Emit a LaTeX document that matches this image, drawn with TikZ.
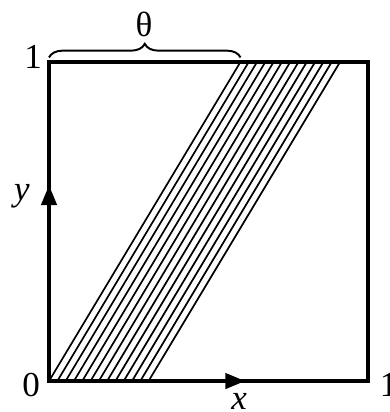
\documentclass[tikz,border=0pt]{standalone}
\usepackage{fontspec}
\setmainfont{Liberation Serif}
\usepackage{tikz}
\usetikzlibrary{positioning, arrows.meta, decorations.pathreplacing, calc}
\tikzset{
  frame/.style={draw=black, line width=2.7pt, line join=miter},
  hatchline/.style={draw=black, line width=1.2pt},
  axisarrow/.style={
    -{Triangle[length=5mm, width=3.8mm]},
    black, line width=2.7pt
  },
  lbl/.style={font=\fontsize{25}{28}\selectfont, inner sep=0pt},
  bracetop/.style={decorate, decoration={brace, amplitude=3.4mm}, line width=1.4pt}
}
\begin{document}
\begin{tikzpicture}[x=8cm, y=8cm]
        \useasboundingbox (-0.1536,-0.097) rectangle (1.066,1.194);
        \coordinate (orig) at (0,0);
        \coordinate (xend) at (1,0);
        \coordinate (top) at (1,1);
        \coordinate (yend) at (0,1);
        \coordinate (theta) at (0.6,1);
        % hatched band
        \foreach \i in {0,...,12} {
          \draw[hatchline] ($(orig)+(\i*0.026,0)$) -- ($(theta)+(\i*0.026,0)$);
        }
        \draw[frame] (orig) rectangle (top);
        \draw[axisarrow] (orig) -- (0.615,0);
        \draw[axisarrow] (orig) -- (0,0.614);
        \draw[bracetop] ($(yend)+(0,0.014)$) -- ($(theta)+(0,0.014)$);
        \node[lbl] (thlbl) at (0.298,1.116) {θ};
        \node[lbl] (one) at (-0.05,1.016) {1};
        \node[lbl] (zero) at (-0.056,-0.012) {0};
        \node[lbl, anchor=west] (onex) at (1.036,-0.012) {1};
        \node[lbl] (ylbl) at (-0.085,0.58) {\textit{y}};
        \node[lbl] (xlbl) at (0.596,-0.063) {\textit{x}};
      \end{tikzpicture}
\end{document}
